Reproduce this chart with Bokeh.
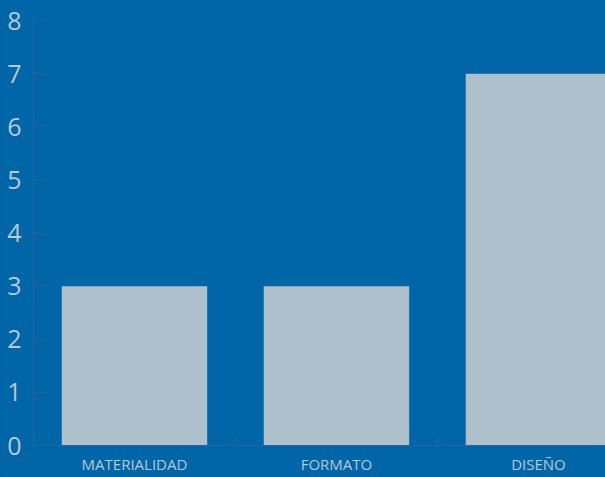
from bokeh.plotting import figure
from bokeh.models import Range1d, FixedTicker, ColumnDataSource, GlobalInlineStyleSheet
from bokeh.embed import file_html
from bokeh.resources import INLINE

categories = ["MATERIALIDAD", "FORMATO", "DISEÑO"]
values = [3, 3, 7]
y_ticks = [0, 1, 2, 3, 4, 5, 6, 7, 8]

BG = "#0066A7"
BAR = "#AEC0CC"
TXT = "#B8C8D4"
AX = "#2A6396"

xs = list(range(len(categories)))
src = ColumnDataSource(dict(x=xs, top=values, cat=categories))

p = figure(width=605, height=477, output_backend="svg", toolbar_location=None,
           x_range=Range1d(-0.5, 2.332), y_range=Range1d(0, 8),
           background_fill_color=BG, border_fill_color=BG,
           min_border_left=33, min_border_right=0, min_border_top=20, min_border_bottom=32)
p.outline_line_color = None
p.grid.visible = False

p.vbar(x="x", top="top", bottom=0, width=0.72, source=src, fill_color=BAR, line_color=None)

# y axis
p.yaxis.ticker = FixedTicker(ticks=y_ticks, minor_ticks=[])
p.yaxis.axis_line_color = AX
p.yaxis.major_tick_line_color = AX
p.yaxis.major_tick_in = 14
p.yaxis.major_tick_out = 0
p.yaxis.minor_tick_line_color = None
p.yaxis.major_label_text_color = TXT
p.yaxis.major_label_text_font = "Open Sans"
p.yaxis.major_label_text_font_size = "25px"
p.yaxis.major_label_standoff = 12

# x axis
p.xaxis.ticker = FixedTicker(ticks=xs, minor_ticks=[-0.5, 0.5, 1.5, 2.5])
p.xaxis.major_label_overrides = {i: c for i, c in enumerate(categories)}
p.xaxis.axis_line_color = AX
p.xaxis.major_tick_line_color = None
p.xaxis.major_tick_in = 0
p.xaxis.major_tick_out = 0
p.xaxis.minor_tick_line_color = AX
p.xaxis.minor_tick_in = 10
p.xaxis.minor_tick_out = 0
p.xaxis.major_label_text_color = TXT
p.xaxis.major_label_text_font = "Open Sans"
p.xaxis.major_label_text_font_size = "15px"
p.xaxis.major_label_standoff = 8

p.stylesheets = [GlobalInlineStyleSheet(css="body{background:%s;}" % BG)]

open("out.html", "w").write(file_html(p, INLINE))
